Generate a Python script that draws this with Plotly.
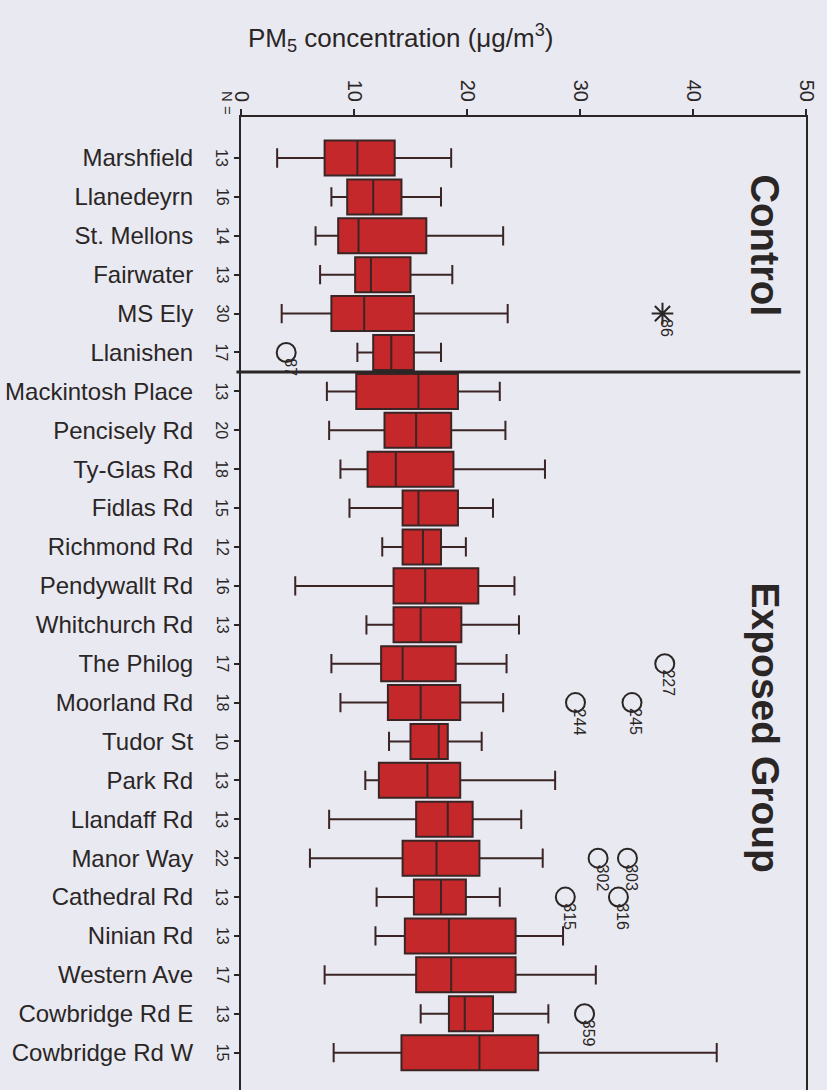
import plotly.graph_objects as go

sites = ["Marshfield", "Llanedeyrn", "St. Mellons", "Fairwater", "MS Ely", "Llanishen",
         "Mackintosh Place", "Pencisely Rd", "Ty-Glas Rd", "Fidlas Rd", "Richmond Rd",
         "Pendywallt Rd", "Whitchurch Rd", "The Philog", "Moorland Rd", "Tudor St", "Park Rd",
         "Llandaff Rd", "Manor Way", "Cathedral Rd", "Ninian Rd", "Western Ave",
         "Cowbridge Rd E", "Cowbridge Rd W"]
n_values = [13, 16, 14, 13, 30, 17, 13, 20, 18, 15, 12, 16, 13, 17, 18, 10, 13, 13, 22, 13, 13, 17, 13, 15]
whisker_low = [3.2, 8.0, 6.6, 7.0, 3.6, 10.3, 7.6, 7.8, 8.8, 9.6, 12.5, 4.8, 11.1, 8.0, 8.8, 13.1,
               11.0, 7.8, 6.1, 12.0, 11.9, 7.4, 15.9, 8.2]
quart1 = [7.4, 9.4, 8.6, 10.1, 8.0, 11.7, 10.2, 12.7, 11.2, 14.3, 14.3, 13.5, 13.5, 12.4, 13.0, 15.0,
          12.2, 15.5, 14.3, 15.3, 14.5, 15.5, 18.4, 14.2]
medians = [10.3, 11.7, 10.4, 11.5, 10.9, 13.3, 15.7, 15.5, 13.7, 15.7, 16.1, 16.3, 15.9, 14.3, 15.9,
           17.5, 16.5, 18.3, 17.3, 17.7, 18.4, 18.6, 19.8, 21.1]
quart3 = [13.6, 14.2, 16.4, 15.0, 15.3, 15.3, 19.2, 18.6, 18.8, 19.2, 17.7, 21.0, 19.5, 19.0, 19.4,
          18.3, 19.4, 20.5, 21.1, 19.9, 24.3, 24.3, 22.3, 26.3]
whisker_high = [18.6, 17.7, 23.2, 18.7, 23.6, 17.7, 22.9, 23.4, 26.9, 22.3, 19.9, 24.2, 24.6, 23.5,
                23.2, 21.3, 27.8, 24.8, 26.7, 22.9, 28.5, 31.4, 27.2, 42.1]

outlier_sites = ["Llanishen", "The Philog", "Moorland Rd", "Moorland Rd", "Manor Way", "Manor Way",
                 "Cathedral Rd", "Cathedral Rd", "Cowbridge Rd E"]
outlier_values = [4.0, 37.5, 34.6, 29.6, 31.6, 34.2, 28.7, 33.4, 30.4]
outlier_ids = ["87", "227", "245", "244", "302", "303", "315", "316", "359"]
extreme_sites = ["MS Ely"]
extreme_values = [37.3]
extreme_ids = ["86"]

x_ticks = [0, 10, 20, 30, 40, 50]

BG = "#e9e9f1"
INK = "#2b2626"
FONT = "Liberation Sans, Arial, sans-serif"

pos = list(range(len(sites)))
pos_of = {s: i for i, s in enumerate(sites)}

fig = go.Figure()
fig.add_trace(go.Box(
    y=pos, q1=quart1, median=medians, q3=quart3,
    lowerfence=whisker_low, upperfence=whisker_high,
    orientation="h", boxpoints=False, width=0.9, whiskerwidth=0.55,
    fillcolor="#c5282a", line=dict(color="#3a2424", width=2),
    showlegend=False,
))
fig.add_trace(go.Scatter(
    x=outlier_values, y=[pos_of[s] for s in outlier_sites], mode="markers",
    marker=dict(symbol="circle-open", size=19, color=INK, line=dict(width=2, color=INK)),
    showlegend=False, cliponaxis=False,
))
fig.add_trace(go.Scatter(
    x=extreme_values, y=[pos_of[s] for s in extreme_sites], mode="markers",
    marker=dict(symbol="asterisk-open", size=18, color=INK, line=dict(width=2, color=INK)),
    showlegend=False, cliponaxis=False,
))

ann = []
for s, v, t in zip(outlier_sites + extreme_sites, outlier_values + extreme_values, outlier_ids + extreme_ids):
    ann.append(dict(x=v, y=pos_of[s], xref="x", yref="y", text=t, showarrow=False,
                    textangle=90, xanchor="center", yanchor="top", xshift=4, yshift=-4,
                    font=dict(family=FONT, size=16, color=INK)))
for i, nv in enumerate(n_values):
    ann.append(dict(x=0, y=i, xref="paper", yref="y", text=str(nv), showarrow=False,
                    textangle=90, xanchor="center", yanchor="middle", xshift=-19,
                    font=dict(family=FONT, size=16, color=INK)))
ann.append(dict(x=0, y=1.0144, xref="paper", yref="paper", text="N =", showarrow=False,
                textangle=90, xanchor="center", yanchor="middle", xshift=-14,
                font=dict(family=FONT, size=15, color=INK)))
ann.append(dict(x=46.4, y=2.25, xref="x", yref="y", text="<b>Control</b>", showarrow=False,
                textangle=90, font=dict(family=FONT, size=40, color=INK)))
ann.append(dict(x=46.4, y=14.65, xref="x", yref="y", text="<b>Exposed Group</b>", showarrow=False,
                textangle=90, font=dict(family=FONT, size=39, color=INK)))
ann.append(dict(x=(400 - 241) / 565, y=1 + (117 - 38) / 973, xref="paper", yref="paper",
                text="PM<sub>5</sub> concentration (μg/m<sup>3</sup>)", showarrow=False,
                xanchor="center", yanchor="middle",
                font=dict(family=FONT, size=26, color=INK)))

fig.update_layout(
    width=827, height=1090,
    margin=dict(l=241, r=21, t=117, b=0),
    paper_bgcolor=BG, plot_bgcolor=BG,
    font=dict(family=FONT, color=INK),
    annotations=ann,
    shapes=[dict(type="line", xref="paper", yref="y", x0=-0.008, x1=0.99, y0=5.5, y1=5.5,
                 line=dict(color=INK, width=3))],
    xaxis=dict(
        side="top", range=[0, 50], tickvals=x_ticks, ticktext=[str(v) for v in x_ticks],
        tickangle=90, ticks="outside", ticklen=6, tickwidth=2, tickcolor=INK,
        showline=True, linecolor=INK, linewidth=2, mirror=False,
        showgrid=False, zeroline=False,
        tickfont=dict(family=FONT, size=20, color=INK),
    ),
    yaxis=dict(
        range=[23.96, -1.054], tickvals=pos, ticktext=sites,
        ticks="outside", ticklen=5, tickwidth=1.5, tickcolor=INK,
        ticklabelstandoff=36,
        showline=True, linecolor=INK, linewidth=2, mirror=True,
        showgrid=False, zeroline=False,
        tickfont=dict(family=FONT, size=24, color=INK),
    ),
)

fig.write_html("out.html")
